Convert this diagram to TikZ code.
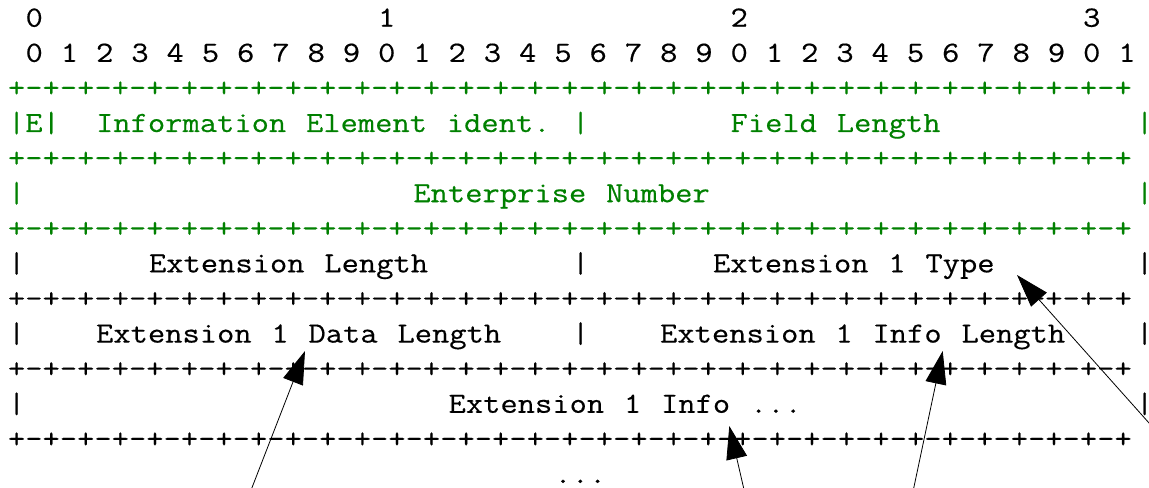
\documentclass[tikz,border=0pt]{standalone}
\usepackage{fontspec}
\usetikzlibrary{arrows.meta}
\newfontfamily\asciifont[FakeStretch=1.1445,FakeBold=0.4,WordSpace=1.1445]{lmmono12-regular.otf}
\definecolor{ipfixgreen}{RGB}{0,128,0}
\newcommand\bitrule{+-+-+-+-+-+-+-+-%
+-+-+-+-+-+-+-+-%
+-+-+-+-+-+-+-+-%
+-+-+-+-+-+-+-+-%
+}
\tikzset{
  ascii/.style={anchor=base west,inner sep=0pt,font=\asciifont\fontsize{22}{26}\selectfont},
  ptr/.style={-{Triangle[length=24.75pt,width=15.75pt]},line width=0.6pt},
}
\begin{document}
\begin{tikzpicture}[x=0.75pt,y=0.75pt,yscale=-1,xscale=1]
\useasboundingbox (0,0) rectangle (1149,488);
\foreach \c/\t in {1/0,21/1,41/2,61/3}
  \node[ascii] (dec\t) at ({7.7+17.625*\c},26.7) {\t};
\foreach \k in {0,...,31}{
  \pgfmathtruncatemacro\d{mod(\k,10)}
  \node[ascii] (bit\k) at ({7.7+17.625*(1+2*\k)},61.8) {\d};
}
\node[ascii,text=ipfixgreen] (rule1) at (7.7,96.9) {\bitrule};
\node[ascii,text=ipfixgreen] (ebit) at (7.7,132) {|E|};
\node[ascii,text=ipfixgreen] (ieid) at (95.8,132) {Information Element ident.};
\node[ascii,text=ipfixgreen] (sep1) at (571.7,132) {|};
\node[ascii,text=ipfixgreen] (flen) at (730.3,132) {Field Length};
\node[ascii,text=ipfixgreen] (end1) at (1135.7,132) {|};
\node[ascii,text=ipfixgreen] (rule2) at (7.7,167.1) {\bitrule};
\node[ascii,text=ipfixgreen] (beg2) at (7.7,202.2) {|};
\node[ascii,text=ipfixgreen] (enum) at (413.1,202.2) {Enterprise Number};
\node[ascii,text=ipfixgreen] (end2) at (1135.7,202.2) {|};
\node[ascii,text=ipfixgreen] (rule3) at (7.7,237.3) {\bitrule};
\node[ascii] (beg3) at (7.7,272.4) {|};
\node[ascii] (extlen) at (148.7,272.4) {Extension Length};
\node[ascii] (sep3) at (571.7,272.4) {|};
\node[ascii] (exttype) at (712.7,272.4) {Extension 1 Type};
\node[ascii] (end3) at (1135.7,272.4) {|};
\node[ascii] (rule4) at (7.7,307.5) {\bitrule};
\node[ascii] (beg4) at (7.7,342.6) {|};
\node[ascii] (datalen) at (95.8,342.6) {Extension 1 Data Length};
\node[ascii] (sep4) at (571.7,342.6) {|};
\node[ascii] (infolen) at (659.8,342.6) {Extension 1 Info Length};
\node[ascii] (end4) at (1135.7,342.6) {|};
\node[ascii] (rule5) at (7.7,377.7) {\bitrule};
\node[ascii] (beg5) at (7.7,412.8) {|};
\node[ascii] (info) at (448.3,412.8) {Extension 1 Info ...};
\node[ascii] (end5) at (1135.7,412.8) {|};
\node[ascii] (rule6) at (7.7,447.9) {\bitrule};
\node[ascii] (more) at (554.1,483) {...};
\coordinate (tipdata) at (305,351);
\coordinate (taildata) at (247.2,500);
\coordinate (tipinfo) at (729.3,426);
\coordinate (tailinfo) at (746.4,500);
\coordinate (tipinfolen) at (942.7,351);
\coordinate (tailinfolen) at (911.2,500);
\coordinate (tiptype) at (1017,275);
\coordinate (tailtype) at (1160,435.3);
\draw[ptr] (taildata) -- (tipdata);
\draw[ptr] (tailinfo) -- (tipinfo);
\draw[ptr] (tailinfolen) -- (tipinfolen);
\draw[ptr] (tailtype) -- (tiptype);
\end{tikzpicture}
\end{document}
